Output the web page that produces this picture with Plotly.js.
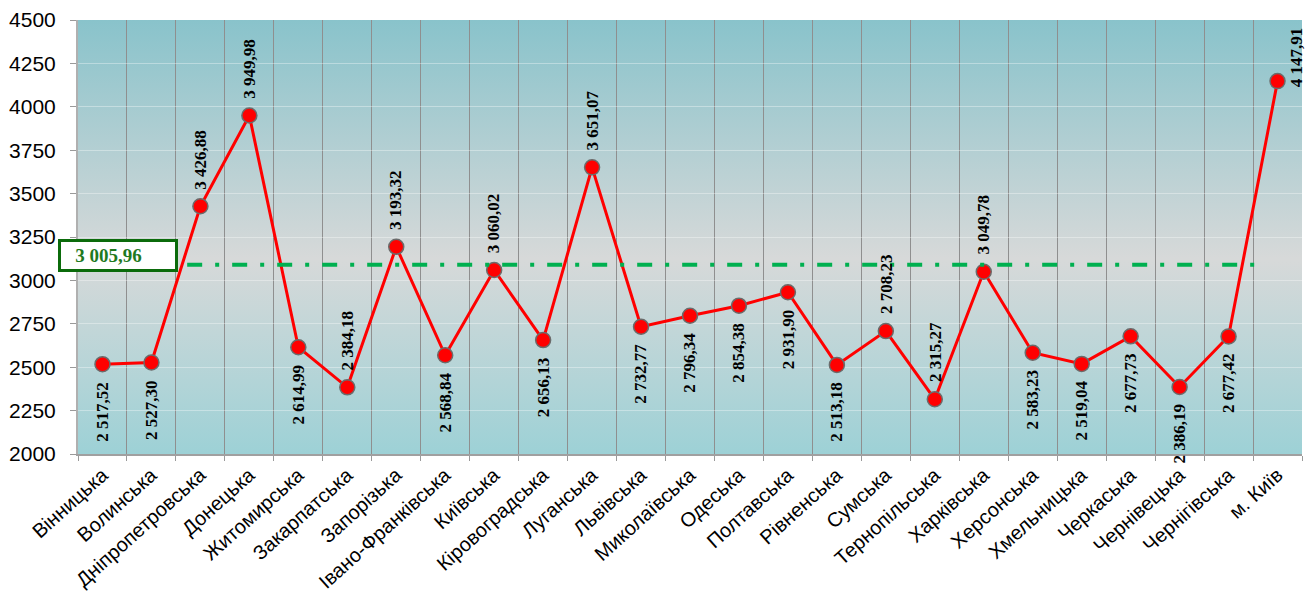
<!DOCTYPE html>
<html>
<head>
<meta charset="utf-8">
<script src="https://cdn.plot.ly/plotly-3.0.1.min.js"></script>
<style>
html,body{margin:0;padding:0;background:#fff;}
#chart{width:1309px;height:593px;}
</style>
</head>
<body>
<div id="chart"></div>
<script>
// ---- data ----
const regions = ["Вінницька","Волинська","Дніпропетровська","Донецька","Житомирська","Закарпатська","Запорізька","Івано-Франківська","Київська","Кіровоградська","Луганська","Львівська","Миколаївська","Одеська","Полтавська","Рівненська","Сумська","Тернопільська","Харківська","Херсонська","Хмельницька","Черкаська","Чернівецька","Чернігівська","м. Київ"];
const wages = [2517.52,2527.30,3426.88,3949.98,2614.99,2384.18,3193.32,2568.84,3060.02,2656.13,3651.07,2732.77,2796.34,2854.38,2931.90,2513.18,2708.23,2315.27,3049.78,2583.23,2519.04,2677.73,2386.19,2677.42,4147.91];
const labelSide = ["below","below","above","above","below","above","above","below","above","below","above","below","below","below","below","below","above","above","above","below","below","below","below","below","right"];
const avgLabel = "3 005,96";
const avgLineLevel = 3090;
const yTicks = [2000,2250,2500,2750,3000,3250,3500,3750,4000,4250,4500];

function fmt(v){
  const parts = v.toFixed(2).split(".");
  const intp = parts[0].replace(/\B(?=(\d{3})+(?!\d))/g, " ");
  return intp + "," + parts[1];
}

const trace = {
  x: regions,
  y: wages,
  type: "scatter",
  mode: "lines+markers",
  line: {color: "#ff0000", width: 3},
  marker: {color: "#ff0000", size: 15, line: {color: "#6b6b6b", width: 1.5}},
  hoverinfo: "x+y"
};

const annotations = regions.map((r, i) => {
  const side = labelSide[i];
  const a = {
    x: r, y: wages[i], xref: "x", yref: "y",
    text: "<b>" + fmt(wages[i]) + "</b>", showarrow: false, textangle: -90,
    font: {family: "Liberation Serif, Times New Roman, serif", size: 17, color: "#000"}
  };
  if (side === "above") { a.yanchor = "bottom"; a.yshift = 15; a.xanchor = "center"; }
  else if (side === "below") { a.yanchor = "top"; a.yshift = -15; a.xanchor = "center"; }
  else { a.xanchor = "left"; a.xshift = 7; a.yanchor = "bottom"; a.yshift = -8; }
  return a;
});

annotations.push({
  xref: "paper", yref: "y", x: 0.0327, y: 3141,
  text: "<b>&nbsp;&nbsp;&nbsp;" + avgLabel + "</b>", showarrow: false,
  xanchor: "center", yanchor: "middle", align: "left",
  font: {family: "Liberation Serif, Times New Roman, serif", size: 19, color: "#1f7a1f"},
  bgcolor: "#ffffff", bordercolor: "#0b6b0b", borderwidth: 3,
  width: 114, height: 27, borderpad: 0
});

const gradSvg = "<svg xmlns='http://www.w3.org/2000/svg' width='100' height='100' preserveAspectRatio='none'>" +
  "<defs><linearGradient id='g' x1='0' y1='0' x2='0' y2='1'>" +
  "<stop offset='0' stop-color='#89c3cb'/>" +
  "<stop offset='0.55' stop-color='#d7d9d9'/>" +
  "<stop offset='1' stop-color='#9dd1d6'/>" +
  "</linearGradient></defs><rect width='100' height='100' fill='url(#g)'/></svg>";
const gradUri = "data:image/svg+xml;charset=utf-8," + encodeURIComponent(gradSvg);

const layout = {
  width: 1309, height: 593,
  margin: {l: 78, r: 7, t: 20, b: 139},
  paper_bgcolor: "#ffffff",
  plot_bgcolor: "rgba(0,0,0,0)",
  showlegend: false,
  images: [{
    source: gradUri, xref: "paper", yref: "paper", x: 0, y: 1,
    sizex: 1, sizey: 1, sizing: "stretch", xanchor: "left", yanchor: "top", layer: "below"
  }],
  xaxis: {
    type: "category",
    tickson: "boundaries",
    showgrid: true, gridcolor: "#8f8f8f", gridwidth: 1,
    ticks: "outside", ticklen: 5, tickcolor: "#9a9a9a",
    showline: true, linecolor: "#a0a0a0", linewidth: 1.5, mirror: false,
    tickangle: -42,
    tickfont: {family: "Liberation Sans, Arial, sans-serif", size: 20, color: "#000"},
    range: [-0.5, regions.length - 0.5]
  },
  yaxis: {
    range: [2000, 4500],
    tickvals: yTicks,
    ticktext: yTicks.map(String),
    showgrid: true, gridcolor: "rgba(255,255,255,0.35)", gridwidth: 1,
    ticks: "outside", ticklen: 6, tickcolor: "#9a9a9a",
    showline: true, linecolor: "#b0b0b0", linewidth: 2,
    ticklabelstandoff: 10,
    tickfont: {family: "Liberation Sans, Arial, sans-serif", size: 21, color: "#000"},
    zeroline: false
  },
  shapes: [{
    type: "line", xref: "x", yref: "y",
    x0: 1.73, x1: 23.6, y0: avgLineLevel, y1: avgLineLevel,
    line: {color: "#00b050", width: 4, dash: "15px,13px,4px,13px"},
    layer: "above"
  }],
  annotations: annotations
};

Plotly.newPlot("chart", [trace], layout, {displayModeBar: false, staticPlot: true});
</script>
</body>
</html>
